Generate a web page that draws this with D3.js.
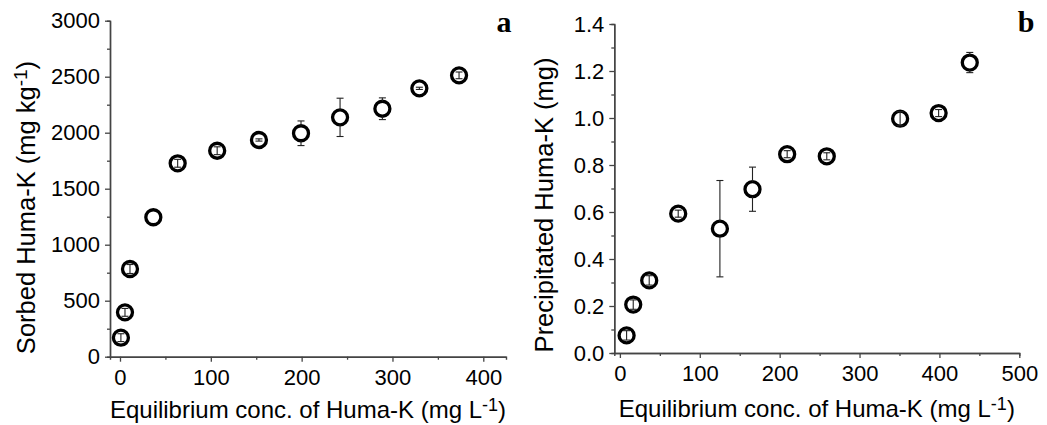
<!DOCTYPE html>
<html>
<head>
<meta charset="utf-8">
<script src="https://cdn.jsdelivr.net/npm/d3@7"></script>
<style>
  html, body { margin: 0; padding: 0; background: #fff; }
  svg { display: block; }
</style>
</head>
<body>
<svg id="chart" width="1047" height="425"></svg>
<script>
// ---- Panel a data: Sorbed Huma-K vs equilibrium conc.
const aX   = [1, 5.5, 11, 36.7, 63.5, 107, 153, 199.3, 242.3, 288.9, 329.6, 373.3];
const aY   = [170, 396, 783, 1245, 1727, 1839, 1935, 1995, 2137, 2214, 2396, 2512];
const aErr = [35, 35, 40, 0, 35, 35, 10, 110, 171, 97, 10, 30];
const aXTicks = [0, 100, 200, 300, 400];
const aYTicks = [0, 500, 1000, 1500, 2000, 2500, 3000];

// ---- Panel b data: Precipitated Huma-K vs equilibrium conc.
const bX   = [8.4, 16.7, 36.7, 73, 125.2, 166, 209.4, 259, 350.8, 399, 438];
const bY   = [0.075, 0.206, 0.309, 0.593, 0.529, 0.697, 0.846, 0.837, 0.997, 1.021, 1.236];
const bErr = [0.02, 0.02, 0.02, 0.015, 0.205, 0.094, 0.015, 0.015, 0.03, 0.015, 0.043];
const bXTicks = [0, 100, 200, 300, 400, 500];
const bYTicks = [0, 0.2, 0.4, 0.6, 0.8, 1.0, 1.2, 1.4];

const svg = d3.select("#chart");
const axisColor = "#444";
const SANS = '"Liberation Sans", Arial, sans-serif';
const SERIF = '"Liberation Serif", "Times New Roman", serif';
const R = 7.5;

function panel(cfg) {
  const x = d3.scaleLinear().domain(cfg.xDomain).range(cfg.xRange);
  const y = d3.scaleLinear().domain(cfg.yDomain).range(cfg.yRange);
  const g = svg.append("g");

  // minor ticks
  const xMinor = g.append("g").attr("transform", `translate(0,${cfg.yRange[0]})`)
    .call(d3.axisBottom(x).tickValues(cfg.xMinor).tickSize(3).tickFormat(""));
  const yMinor = g.append("g").attr("transform", `translate(${cfg.xRange[0]},0)`)
    .call(d3.axisLeft(y).tickValues(cfg.yMinor).tickSize(3).tickFormat(""));

  const xa = g.append("g").attr("transform", `translate(0,${cfg.yRange[0]})`)
    .call(d3.axisBottom(x).tickValues(cfg.xTicks).tickSize(5).tickSizeOuter(0).tickPadding(7.5).tickFormat(d3.format("d")));
  const ya = g.append("g").attr("transform", `translate(${cfg.xRange[0]},0)`)
    .call(d3.axisLeft(y).tickValues(cfg.yTicks).tickSize(5).tickSizeOuter(0).tickPadding(5).tickFormat(cfg.yFormat));

  [xMinor, yMinor, xa, ya].forEach(a => {
    a.selectAll("path").attr("stroke", axisColor).attr("stroke-width", 1.4);
    a.selectAll("line").attr("stroke", axisColor).attr("stroke-width", 1.3);
    a.selectAll("text").style("font-size", "22px").style("font-family", SANS).attr("fill", "#000");
  });

  // markers (white filled)
  const pts = cfg.xs.map((v, i) => ({ x: v, y: cfg.ys[i], e: cfg.es[i] }));
  g.append("g").selectAll("circle").data(pts).join("circle")
    .attr("cx", d => x(d.x)).attr("cy", d => y(d.y)).attr("r", R)
    .attr("fill", "#fff").attr("stroke", "#000").attr("stroke-width", 3.3);

  // error bars
  const eg = g.append("g").attr("stroke", "#222").attr("stroke-width", 1.1).attr("fill", "none");
  pts.forEach(d => {
    if (d.e <= 0) return;
    const cx = x(d.x), cy = y(d.y);
    const top = y(d.y + d.e), bot = y(d.y - d.e);
    const len = cy - top;
    if (len > R) {
      eg.append("line").attr("x1", cx).attr("x2", cx).attr("y1", top).attr("y2", cy - R);
      eg.append("line").attr("x1", cx).attr("x2", cx).attr("y1", cy + R).attr("y2", bot);
    } else {
      eg.append("line").attr("x1", cx).attr("x2", cx).attr("y1", top).attr("y2", bot);
    }
    [top, bot].forEach(yy => eg.append("line").attr("x1", cx - 3.5).attr("x2", cx + 3.5).attr("y1", yy).attr("y2", yy));
  });

  // x title
  const xt = g.append("text").attr("x", (cfg.xRange[0] + cfg.xRange[1]) / 2).attr("y", cfg.xTitleY)
    .attr("text-anchor", "middle").style("font-family", SANS).style("font-size", "24px").attr("fill", "#000");
  xt.append("tspan").text("Equilibrium conc. of Huma-K (mg L");
  xt.append("tspan").style("font-size", "18px").attr("dy", -7.5).text("-1");
  xt.append("tspan").attr("dy", 7.5).text(")");

  // y title
  const yt = g.append("text").attr("transform", `translate(${cfg.yTitleX},${cfg.yTitleC}) rotate(-90)`)
    .attr("text-anchor", "middle").style("font-family", SANS).style("font-size", "25.5px").attr("fill", "#000");
  cfg.yTitle(yt);

  // panel letter
  g.append("text").attr("x", cfg.letterX).attr("y", 31.7).attr("text-anchor", "middle")
    .style("font-family", SERIF).style("font-weight", "bold")
    .style("font-size", "30px").attr("fill", "#000").text(cfg.letter);
}

panel({
  xDomain: [-11, 425], xRange: [110, 506],
  yDomain: [0, 3000], yRange: [356.7, 20.7],
  xTicks: aXTicks, yTicks: aYTicks,
  xMinor: [50, 150, 250, 350],
  yMinor: [250, 750, 1250, 1750, 2250, 2750],
  yFormat: d3.format("d"),
  xs: aX, ys: aY, es: aErr,
  xTitleY: 418, yTitleX: 35, yTitleC: 207.5,
  yTitle: t => {
    t.append("tspan").text("Sorbed Huma-K (mg kg");
    t.append("tspan").style("font-size", "19px").attr("dy", -8).text("-1");
    t.append("tspan").attr("dy", 8).text(")");
  },
  letter: "a", letterX: 504
});

panel({
  xDomain: [-7, 500], xRange: [614.3, 1019.3],
  yDomain: [0, 1.4], yRange: [353, 24],
  xTicks: bXTicks, yTicks: bYTicks,
  xMinor: [50, 150, 250, 350, 450],
  yMinor: [0.1, 0.3, 0.5, 0.7, 0.9, 1.1, 1.3],
  yFormat: d3.format(".1f"),
  xs: bX, ys: bY, es: bErr,
  xTitleY: 417, yTitleX: 553, yTitleC: 205,
  yTitle: t => { t.text("Precipitated Huma-K (mg)"); },
  letter: "b", letterX: 1026
});
</script>
</body>
</html>
